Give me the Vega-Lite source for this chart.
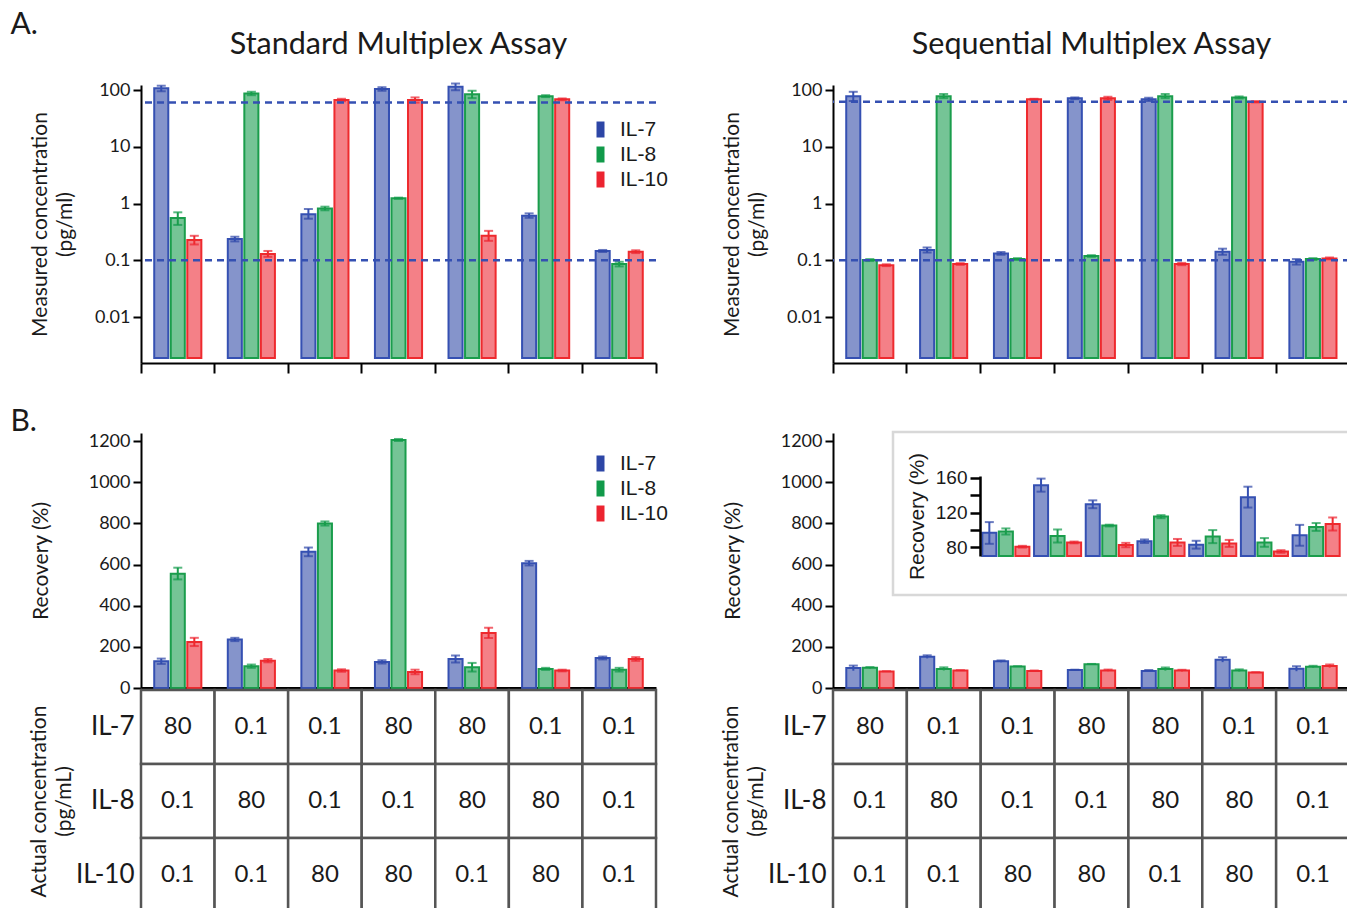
{
  "$schema": "https://vega.github.io/schema/vega-lite/v6.json",
  "background": "white",
  "padding": {"left": 10, "top": 9, "right": 0, "bottom": 0},
  "title": {"text": "A.", "anchor": "start", "fontSize": 30, "fontWeight": "normal", "font": "Lato", "color": "#1a1a1a", "dx": 0, "offset": -10},
  "datasets": {
    "topStd": [
      {"g": 1, "a": "IL-7", "v": 107, "lo": 95, "hi": 119},
      {"g": 1, "a": "IL-8", "v": 0.556, "lo": 0.42, "hi": 0.7},
      {"g": 1, "a": "IL-10", "v": 0.227, "lo": 0.19, "hi": 0.27},
      {"g": 2, "a": "IL-7", "v": 0.237, "lo": 0.215, "hi": 0.26},
      {"g": 2, "a": "IL-8", "v": 87, "lo": 81, "hi": 93},
      {"g": 2, "a": "IL-10", "v": 0.129, "lo": 0.115, "hi": 0.146},
      {"g": 3, "a": "IL-7", "v": 0.65, "lo": 0.54, "hi": 0.8},
      {"g": 3, "a": "IL-8", "v": 0.82, "lo": 0.76, "hi": 0.88},
      {"g": 3, "a": "IL-10", "v": 66.7, "lo": 63.5, "hi": 70},
      {"g": 4, "a": "IL-7", "v": 104, "lo": 97, "hi": 112},
      {"g": 4, "a": "IL-8", "v": 1.24, "lo": 1.21, "hi": 1.27},
      {"g": 4, "a": "IL-10", "v": 66.7, "lo": 60, "hi": 74},
      {"g": 5, "a": "IL-7", "v": 114, "lo": 99, "hi": 130},
      {"g": 5, "a": "IL-8", "v": 84, "lo": 72, "hi": 97},
      {"g": 5, "a": "IL-10", "v": 0.271, "lo": 0.22, "hi": 0.33},
      {"g": 6, "a": "IL-7", "v": 0.61, "lo": 0.56, "hi": 0.67},
      {"g": 6, "a": "IL-8", "v": 78, "lo": 75, "hi": 81},
      {"g": 6, "a": "IL-10", "v": 68.5, "lo": 66, "hi": 71},
      {"g": 7, "a": "IL-7", "v": 0.146, "lo": 0.14, "hi": 0.152},
      {"g": 7, "a": "IL-8", "v": 0.086, "lo": 0.078, "hi": 0.094},
      {"g": 7, "a": "IL-10", "v": 0.142, "lo": 0.134, "hi": 0.15}
    ],
    "topSeq": [
      {"g": 1, "a": "IL-7", "v": 78, "lo": 64, "hi": 93},
      {"g": 1, "a": "IL-8", "v": 0.101, "lo": 0.097, "hi": 0.105},
      {"g": 1, "a": "IL-10", "v": 0.082, "lo": 0.079, "hi": 0.085},
      {"g": 2, "a": "IL-7", "v": 0.152, "lo": 0.137, "hi": 0.168},
      {"g": 2, "a": "IL-8", "v": 78, "lo": 72, "hi": 85},
      {"g": 2, "a": "IL-10", "v": 0.086, "lo": 0.083, "hi": 0.089},
      {"g": 3, "a": "IL-7", "v": 0.132, "lo": 0.125, "hi": 0.14},
      {"g": 3, "a": "IL-8", "v": 0.105, "lo": 0.101, "hi": 0.109},
      {"g": 3, "a": "IL-10", "v": 68.5, "lo": 67, "hi": 70},
      {"g": 4, "a": "IL-7", "v": 71.4, "lo": 69, "hi": 74},
      {"g": 4, "a": "IL-8", "v": 0.119, "lo": 0.115, "hi": 0.123},
      {"g": 4, "a": "IL-10", "v": 71.4, "lo": 67, "hi": 76},
      {"g": 5, "a": "IL-7", "v": 68.5, "lo": 64, "hi": 73},
      {"g": 5, "a": "IL-8", "v": 78, "lo": 72, "hi": 85},
      {"g": 5, "a": "IL-10", "v": 0.086, "lo": 0.082, "hi": 0.09},
      {"g": 6, "a": "IL-7", "v": 0.142, "lo": 0.125, "hi": 0.16},
      {"g": 6, "a": "IL-8", "v": 74, "lo": 71, "hi": 77},
      {"g": 6, "a": "IL-10", "v": 62, "lo": 60.5, "hi": 63.5},
      {"g": 7, "a": "IL-7", "v": 0.094, "lo": 0.084, "hi": 0.105},
      {"g": 7, "a": "IL-8", "v": 0.105, "lo": 0.101, "hi": 0.109},
      {"g": 7, "a": "IL-10", "v": 0.108, "lo": 0.104, "hi": 0.112}
    ],
    "recStd": [
      {"g": 1, "a": "IL-7", "v": 130, "lo": 117, "hi": 143},
      {"g": 1, "a": "IL-8", "v": 556, "lo": 528, "hi": 585},
      {"g": 1, "a": "IL-10", "v": 224, "lo": 204, "hi": 244},
      {"g": 2, "a": "IL-7", "v": 236, "lo": 228, "hi": 244},
      {"g": 2, "a": "IL-8", "v": 106, "lo": 98, "hi": 114},
      {"g": 2, "a": "IL-10", "v": 133, "lo": 125, "hi": 141},
      {"g": 3, "a": "IL-7", "v": 662, "lo": 641, "hi": 683},
      {"g": 3, "a": "IL-8", "v": 800, "lo": 790, "hi": 810},
      {"g": 3, "a": "IL-10", "v": 85, "lo": 79, "hi": 91},
      {"g": 4, "a": "IL-7", "v": 127, "lo": 119, "hi": 135},
      {"g": 4, "a": "IL-8", "v": 1206, "lo": 1201, "hi": 1211},
      {"g": 4, "a": "IL-10", "v": 78, "lo": 67, "hi": 89},
      {"g": 5, "a": "IL-7", "v": 141, "lo": 124, "hi": 158},
      {"g": 5, "a": "IL-8", "v": 101, "lo": 80, "hi": 122},
      {"g": 5, "a": "IL-10", "v": 268, "lo": 243, "hi": 293},
      {"g": 6, "a": "IL-7", "v": 607, "lo": 596, "hi": 618},
      {"g": 6, "a": "IL-8", "v": 93, "lo": 88, "hi": 98},
      {"g": 6, "a": "IL-10", "v": 85, "lo": 81, "hi": 89},
      {"g": 7, "a": "IL-7", "v": 146, "lo": 139, "hi": 153},
      {"g": 7, "a": "IL-8", "v": 89, "lo": 80, "hi": 98},
      {"g": 7, "a": "IL-10", "v": 141, "lo": 132, "hi": 150}
    ],
    "recSeq": [
      {"g": 1, "a": "IL-7", "v": 96.7, "lo": 84, "hi": 109},
      {"g": 1, "a": "IL-8", "v": 98.2, "lo": 94.7, "hi": 101.7},
      {"g": 1, "a": "IL-10", "v": 80.7, "lo": 79.7, "hi": 81.7},
      {"g": 2, "a": "IL-7", "v": 151.4, "lo": 144, "hi": 159},
      {"g": 2, "a": "IL-8", "v": 93, "lo": 85.5, "hi": 100.5},
      {"g": 2, "a": "IL-10", "v": 85.6, "lo": 84.6, "hi": 86.6},
      {"g": 3, "a": "IL-7", "v": 129.5, "lo": 125, "hi": 134},
      {"g": 3, "a": "IL-8", "v": 105, "lo": 104, "hi": 106},
      {"g": 3, "a": "IL-10", "v": 82.6, "lo": 80.1, "hi": 85.1},
      {"g": 4, "a": "IL-7", "v": 87, "lo": 85, "hi": 89},
      {"g": 4, "a": "IL-8", "v": 115.3, "lo": 113.5, "hi": 117},
      {"g": 4, "a": "IL-10", "v": 85.6, "lo": 81.6, "hi": 89.6},
      {"g": 5, "a": "IL-7", "v": 83, "lo": 78.5, "hi": 87.5},
      {"g": 5, "a": "IL-8", "v": 92.3, "lo": 84.8, "hi": 99.8},
      {"g": 5, "a": "IL-10", "v": 84.5, "lo": 80.5, "hi": 88.5},
      {"g": 6, "a": "IL-7", "v": 137.7, "lo": 125.7, "hi": 149.7},
      {"g": 6, "a": "IL-8", "v": 85.6, "lo": 80.6, "hi": 90.6},
      {"g": 6, "a": "IL-10", "v": 75.2, "lo": 73.7, "hi": 76.7},
      {"g": 7, "a": "IL-7", "v": 93.8, "lo": 81.8, "hi": 105.8},
      {"g": 7, "a": "IL-8", "v": 103.4, "lo": 98.9, "hi": 107.9},
      {"g": 7, "a": "IL-10", "v": 106.8, "lo": 99.3, "hi": 114.3}
    ],
    "table": [
      {"g": 1, "a": "IL-7", "c": "80"}, {"g": 2, "a": "IL-7", "c": "0.1"}, {"g": 3, "a": "IL-7", "c": "0.1"}, {"g": 4, "a": "IL-7", "c": "80"}, {"g": 5, "a": "IL-7", "c": "80"}, {"g": 6, "a": "IL-7", "c": "0.1"}, {"g": 7, "a": "IL-7", "c": "0.1"},
      {"g": 1, "a": "IL-8", "c": "0.1"}, {"g": 2, "a": "IL-8", "c": "80"}, {"g": 3, "a": "IL-8", "c": "0.1"}, {"g": 4, "a": "IL-8", "c": "0.1"}, {"g": 5, "a": "IL-8", "c": "80"}, {"g": 6, "a": "IL-8", "c": "80"}, {"g": 7, "a": "IL-8", "c": "0.1"},
      {"g": 1, "a": "IL-10", "c": "0.1"}, {"g": 2, "a": "IL-10", "c": "0.1"}, {"g": 3, "a": "IL-10", "c": "80"}, {"g": 4, "a": "IL-10", "c": "80"}, {"g": 5, "a": "IL-10", "c": "0.1"}, {"g": 6, "a": "IL-10", "c": "80"}, {"g": 7, "a": "IL-10", "c": "0.1"}
    ],
    "refStd": [{"ref": 60}, {"ref": 0.1}],
    "refSeq": [{"ref": 62}, {"ref": 0.1}]
  },
  "concat": [
    {
      "width": 515, "height": 278,
      "title": {"text": "Standard Multiplex Assay", "fontSize": 30.5, "font": "Lato", "fontWeight": "normal", "color": "#1a1a1a", "offset": 21},
      "layer": [
        {"data": {"name": "topStd"}, "layer": [
          {"mark": {"type": "bar", "fillOpacity": 0.58, "strokeWidth": 2},
           "encoding": {
             "x": {"field": "g", "type": "ordinal", "scale": {"paddingInner": 0, "paddingOuter": 0}, "axis": {"labels": false, "title": null, "tickSize": 10, "bandPosition": 1, "tickExtra": true}},
             "xOffset": {"field": "a", "type": "nominal", "scale": {"domain": ["IL-7", "IL-8", "IL-10"], "paddingInner": 0.15, "paddingOuter": 0.8}},
             "y": {"field": "v", "type": "quantitative", "scale": {"type": "log", "domain": [0.00155, 122.5], "nice": false}, "axis": {"values": [0.01, 0.1, 1, 10, 100], "format": "~g", "title": ["Measured concentration", "(pg/ml)"], "titlePadding": 19}},
             "y2": {"datum": 0.0019},
             "color": {"field": "a", "type": "nominal", "scale": {"domain": ["IL-7", "IL-8", "IL-10"], "range": ["#2d46a6", "#119a4a", "#ec2430"]}, "legend": {"orient": "none", "legendX": 449, "legendY": 34, "title": null}},
             "stroke": {"field": "a", "type": "nominal", "scale": {"domain": ["IL-7", "IL-8", "IL-10"], "range": ["#3550b2", "#1a9d4c", "#ee2a2e"]}, "legend": null}
           }},
          {"mark": {"type": "rule", "strokeWidth": 2},
           "encoding": {"x": {"field": "g", "type": "ordinal"}, "xOffset": {"field": "a", "type": "nominal"}, "y": {"field": "lo", "type": "quantitative"}, "y2": {"field": "hi"}, "stroke": {"field": "a", "type": "nominal", "legend": null}}},
          {"mark": {"type": "tick", "thickness": 2, "size": 9},
           "encoding": {"x": {"field": "g", "type": "ordinal"}, "xOffset": {"field": "a", "type": "nominal"}, "y": {"field": "hi", "type": "quantitative"}, "color": {"field": "a", "type": "nominal", "legend": null}}},
          {"mark": {"type": "tick", "thickness": 2, "size": 9},
           "encoding": {"x": {"field": "g", "type": "ordinal"}, "xOffset": {"field": "a", "type": "nominal"}, "y": {"field": "lo", "type": "quantitative"}, "color": {"field": "a", "type": "nominal", "legend": null}}}
        ]},
        {"data": {"name": "refStd"}, "mark": {"type": "rule", "strokeDash": [7, 5], "strokeWidth": 2.5, "color": "#3550b2"},
         "encoding": {"y": {"field": "ref", "type": "quantitative"}}}
      ]
    },
    {
      "width": 517, "height": 278,
      "title": {"text": "Sequential Multiplex Assay", "fontSize": 30.5, "font": "Lato", "fontWeight": "normal", "color": "#1a1a1a", "offset": 21},
      "layer": [
        {"data": {"name": "topSeq"}, "layer": [
          {"mark": {"type": "bar", "fillOpacity": 0.58, "strokeWidth": 2},
           "encoding": {
             "x": {"field": "g", "type": "ordinal", "scale": {"paddingInner": 0, "paddingOuter": 0}, "axis": {"labels": false, "title": null, "tickSize": 10, "bandPosition": 1, "tickExtra": true}},
             "xOffset": {"field": "a", "type": "nominal", "scale": {"domain": ["IL-7", "IL-8", "IL-10"], "paddingInner": 0.15, "paddingOuter": 0.8}},
             "y": {"field": "v", "type": "quantitative", "scale": {"type": "log", "domain": [0.00155, 122.5], "nice": false}, "axis": {"values": [0.01, 0.1, 1, 10, 100], "format": "~g", "title": ["Measured concentration", "(pg/ml)"], "titlePadding": 19}},
             "y2": {"datum": 0.0019},
             "color": {"field": "a", "type": "nominal", "scale": {"domain": ["IL-7", "IL-8", "IL-10"], "range": ["#2d46a6", "#119a4a", "#ec2430"]}, "legend": null},
             "stroke": {"field": "a", "type": "nominal", "scale": {"domain": ["IL-7", "IL-8", "IL-10"], "range": ["#3550b2", "#1a9d4c", "#ee2a2e"]}, "legend": null}
           }},
          {"mark": {"type": "rule", "strokeWidth": 2},
           "encoding": {"x": {"field": "g", "type": "ordinal"}, "xOffset": {"field": "a", "type": "nominal"}, "y": {"field": "lo", "type": "quantitative"}, "y2": {"field": "hi"}, "stroke": {"field": "a", "type": "nominal", "legend": null}}},
          {"mark": {"type": "tick", "thickness": 2, "size": 9},
           "encoding": {"x": {"field": "g", "type": "ordinal"}, "xOffset": {"field": "a", "type": "nominal"}, "y": {"field": "hi", "type": "quantitative"}, "color": {"field": "a", "type": "nominal", "legend": null}}},
          {"mark": {"type": "tick", "thickness": 2, "size": 9},
           "encoding": {"x": {"field": "g", "type": "ordinal"}, "xOffset": {"field": "a", "type": "nominal"}, "y": {"field": "lo", "type": "quantitative"}, "color": {"field": "a", "type": "nominal", "legend": null}}}
        ]},
        {"data": {"name": "refSeq"}, "mark": {"type": "rule", "strokeDash": [7, 5], "strokeWidth": 2.5, "color": "#3550b2"},
         "encoding": {"y": {"field": "ref", "type": "quantitative"}}}
      ]
    },
    {
      "width": 515, "height": 255,
      "title": {"text": "B.", "anchor": "start", "fontSize": 30, "font": "Lato", "fontWeight": "normal", "color": "#1a1a1a", "dx": -18, "offset": -5},
      "layer": [
        {"data": {"name": "recStd"}, "layer": [
          {"mark": {"type": "bar", "fillOpacity": 0.58, "strokeWidth": 2},
           "encoding": {
             "x": {"field": "g", "type": "ordinal", "scale": {"paddingInner": 0, "paddingOuter": 0}, "axis": {"labels": false, "title": null, "ticks": false, "domainWidth": 3}},
             "xOffset": {"field": "a", "type": "nominal", "scale": {"domain": ["IL-7", "IL-8", "IL-10"], "paddingInner": 0.15, "paddingOuter": 0.8}},
             "y": {"field": "v", "type": "quantitative", "scale": {"domain": [0, 1240], "nice": false}, "axis": {"orient": "left", "format": "d", "values": [0, 100, 200, 300, 400, 500, 600, 700, 800, 900, 1000, 1100, 1200], "labelExpr": "datum.value % 200 === 0 ? datum.label : ''", "title": "Recovery (%)", "titlePadding": 37}},
             "color": {"field": "a", "type": "nominal", "scale": {"domain": ["IL-7", "IL-8", "IL-10"], "range": ["#2d46a6", "#119a4a", "#ec2430"]}, "legend": {"orient": "none", "legendX": 449, "legendY": 20, "title": null}},
             "stroke": {"field": "a", "type": "nominal", "scale": {"domain": ["IL-7", "IL-8", "IL-10"], "range": ["#3550b2", "#1a9d4c", "#ee2a2e"]}, "legend": null}
           }},
          {"mark": {"type": "rule", "strokeWidth": 2},
           "encoding": {"x": {"field": "g", "type": "ordinal"}, "xOffset": {"field": "a", "type": "nominal"}, "y": {"field": "lo", "type": "quantitative"}, "y2": {"field": "hi"}, "stroke": {"field": "a", "type": "nominal", "legend": null}}},
          {"mark": {"type": "tick", "thickness": 2, "size": 9},
           "encoding": {"x": {"field": "g", "type": "ordinal"}, "xOffset": {"field": "a", "type": "nominal"}, "y": {"field": "hi", "type": "quantitative"}, "color": {"field": "a", "type": "nominal", "legend": null}}},
          {"mark": {"type": "tick", "thickness": 2, "size": 9},
           "encoding": {"x": {"field": "g", "type": "ordinal"}, "xOffset": {"field": "a", "type": "nominal"}, "y": {"field": "lo", "type": "quantitative"}, "color": {"field": "a", "type": "nominal", "legend": null}}}
        ]},
        {"data": {"name": "table"},
         "encoding": {
           "x": {"field": "g", "type": "ordinal", "axis": {"labels": false, "title": null, "ticks": false, "domainWidth": 3}},
           "y": {"field": "a", "type": "nominal", "scale": {"domain": ["IL-7", "IL-8", "IL-10"], "range": [257, 479], "paddingInner": 0, "paddingOuter": 0}, "axis": {"orient": "left", "title": ["Actual concentration", "(pg/mL)"], "ticks": false, "domain": false, "labelFontSize": 26, "labelPadding": 7, "titlePadding": 1}}
         },
         "layer": [
           {"mark": {"type": "rect", "fill": "white", "stroke": "#555555", "strokeWidth": 2.5}},
           {"mark": {"type": "text", "fontSize": 24, "font": "Lato", "color": "#1a1a1a"}, "encoding": {"text": {"field": "c", "type": "nominal"}}}
         ]}
      ],
      "resolve": {"scale": {"y": "independent"}, "axis": {"y": "independent"}}
    },
    {
      "width": 517, "height": 255,
      "layer": [
        {"data": {"values": [{}]},
         "mark": {"type": "rect", "fill": "white", "stroke": "#d8d8d8", "strokeWidth": 2.5},
         "encoding": {
           "x": {"datum": 0, "type": "quantitative", "scale": {"domain": [0, 1], "range": [60, 530]}, "axis": null},
           "x2": {"datum": 1},
           "y": {"datum": 0, "type": "quantitative", "scale": {"domain": [0, 1], "range": [162, -1]}, "axis": null},
           "y2": {"datum": 1}
         }},
        {"layer": [
          {"data": {"name": "recSeq"}, "layer": [
            {"mark": {"type": "bar", "fillOpacity": 0.58, "strokeWidth": 2},
             "encoding": {
               "x": {"field": "g", "type": "ordinal", "scale": {"paddingInner": 0, "paddingOuter": 0}, "axis": {"labels": false, "title": null, "ticks": false, "domainWidth": 3}},
               "xOffset": {"field": "a", "type": "nominal", "scale": {"domain": ["IL-7", "IL-8", "IL-10"], "paddingInner": 0.15, "paddingOuter": 0.8}},
               "y": {"field": "v", "type": "quantitative", "scale": {"domain": [0, 1240], "nice": false}, "axis": {"orient": "left", "format": "d", "values": [0, 100, 200, 300, 400, 500, 600, 700, 800, 900, 1000, 1100, 1200], "labelExpr": "datum.value % 200 === 0 ? datum.label : ''", "title": "Recovery (%)", "titlePadding": 37}},
               "color": {"field": "a", "type": "nominal", "scale": {"domain": ["IL-7", "IL-8", "IL-10"], "range": ["#2d46a6", "#119a4a", "#ec2430"]}, "legend": null},
               "stroke": {"field": "a", "type": "nominal", "scale": {"domain": ["IL-7", "IL-8", "IL-10"], "range": ["#3550b2", "#1a9d4c", "#ee2a2e"]}, "legend": null}
             }},
            {"mark": {"type": "rule", "strokeWidth": 2},
             "encoding": {"x": {"field": "g", "type": "ordinal"}, "xOffset": {"field": "a", "type": "nominal"}, "y": {"field": "lo", "type": "quantitative"}, "y2": {"field": "hi"}, "stroke": {"field": "a", "type": "nominal", "legend": null}}},
            {"mark": {"type": "tick", "thickness": 2, "size": 9},
             "encoding": {"x": {"field": "g", "type": "ordinal"}, "xOffset": {"field": "a", "type": "nominal"}, "y": {"field": "hi", "type": "quantitative"}, "color": {"field": "a", "type": "nominal", "legend": null}}}
          ]},
          {"data": {"name": "table"},
           "encoding": {
             "x": {"field": "g", "type": "ordinal", "axis": {"labels": false, "title": null, "ticks": false, "domainWidth": 3}},
             "y": {"field": "a", "type": "nominal", "scale": {"domain": ["IL-7", "IL-8", "IL-10"], "range": [257, 479], "paddingInner": 0, "paddingOuter": 0}, "axis": {"orient": "left", "title": ["Actual concentration", "(pg/mL)"], "ticks": false, "domain": false, "labelFontSize": 26, "labelPadding": 7, "titlePadding": 1}}
           },
           "layer": [
             {"mark": {"type": "rect", "fill": "white", "stroke": "#555555", "strokeWidth": 2.5}},
             {"mark": {"type": "text", "fontSize": 24, "font": "Lato", "color": "#1a1a1a"}, "encoding": {"text": {"field": "c", "type": "nominal"}}}
           ]}
        ],
        "resolve": {"scale": {"y": "independent"}, "axis": {"y": "independent"}}},
        {"data": {"name": "recSeq"}, "layer": [
          {"mark": {"type": "bar", "fillOpacity": 0.58, "strokeWidth": 2},
           "encoding": {
             "x": {"field": "g", "type": "ordinal", "scale": {"range": [147, 509], "paddingInner": 0, "paddingOuter": 0}, "axis": null},
             "xOffset": {"field": "a", "type": "nominal", "scale": {"domain": ["IL-7", "IL-8", "IL-10"], "paddingInner": 0.15, "paddingOuter": 0.14}},
             "y": {"field": "v", "type": "quantitative", "scale": {"domain": [70, 162], "range": [123, 43], "zero": false, "nice": false}, "axis": {"orient": "left", "offset": -147, "zindex": 2, "values": [80, 100, 120, 140, 160], "labelExpr": "datum.value % 40 === 0 ? datum.label : ''", "title": "Recovery (%)", "labelFont": "Liberation Sans", "titleFont": "Liberation Sans", "labelFontSize": 19, "titleFontSize": 21, "titleLineHeight": 21, "tickSize": 10, "domainWidth": 2.5, "tickWidth": 2.5, "titlePadding": 8}},
             "y2": {"datum": 70},
             "color": {"field": "a", "type": "nominal", "scale": {"domain": ["IL-7", "IL-8", "IL-10"], "range": ["#2d46a6", "#119a4a", "#ec2430"]}, "legend": null},
             "stroke": {"field": "a", "type": "nominal", "scale": {"domain": ["IL-7", "IL-8", "IL-10"], "range": ["#3550b2", "#1a9d4c", "#ee2a2e"]}, "legend": null}
           }},
          {"mark": {"type": "rule", "strokeWidth": 2},
           "encoding": {"x": {"field": "g", "type": "ordinal"}, "xOffset": {"field": "a", "type": "nominal"}, "y": {"field": "lo", "type": "quantitative"}, "y2": {"field": "hi"}, "stroke": {"field": "a", "type": "nominal", "legend": null}}},
          {"mark": {"type": "tick", "thickness": 2, "size": 9},
           "encoding": {"x": {"field": "g", "type": "ordinal"}, "xOffset": {"field": "a", "type": "nominal"}, "y": {"field": "hi", "type": "quantitative"}, "color": {"field": "a", "type": "nominal", "legend": null}}},
          {"mark": {"type": "tick", "thickness": 2, "size": 9},
           "encoding": {"x": {"field": "g", "type": "ordinal"}, "xOffset": {"field": "a", "type": "nominal"}, "y": {"field": "lo", "type": "quantitative"}, "color": {"field": "a", "type": "nominal", "legend": null}}}
        ]}
      ],
      "resolve": {"scale": {"x": "independent", "y": "independent", "xOffset": "independent"}, "axis": {"x": "independent", "y": "independent"}}
    }
  ],
  "columns": 2,
  "spacing": {"row": 70, "column": 177},
  "bounds": "flush",
  "resolve": {"scale": {"color": "independent", "stroke": "independent"}, "legend": {"color": "independent"}},
  "config": {
    "view": {"stroke": null},
    "font": "Lato",
    "axis": {"labelFont": "Lato", "titleFont": "Lato", "labelFontSize": 18, "titleFontSize": 21, "titleLineHeight": 25, "titleFontWeight": "normal", "labelColor": "#1a1a1a", "titleColor": "#1a1a1a", "grid": false, "domainColor": "black", "tickColor": "black", "domainWidth": 2, "tickWidth": 2, "tickSize": 8, "labelPadding": 3},
    "legend": {"symbolType": "M-0.5,-1H0.5V1H-0.5Z", "symbolSize": 256, "symbolStrokeWidth": 0, "symbolOpacity": 1, "labelFont": "Liberation Sans", "labelFontSize": 21, "labelColor": "#1a1a1a", "labelOffset": 9, "rowPadding": 3}
  }
}
